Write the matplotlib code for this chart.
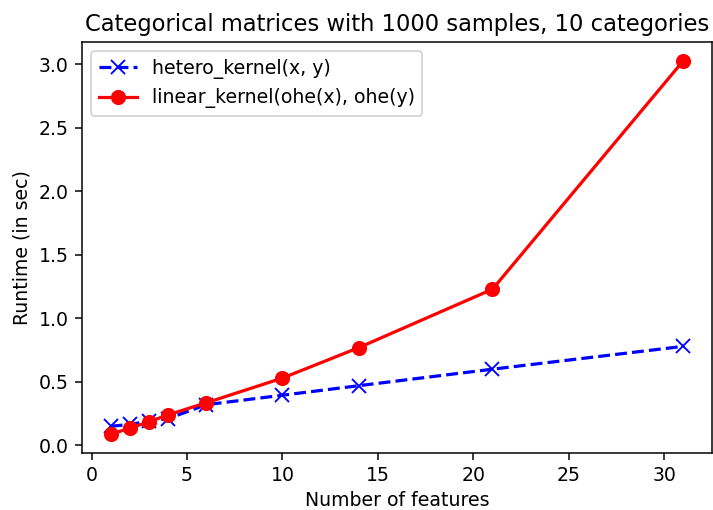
import matplotlib
matplotlib.use("Agg")
import matplotlib.pyplot as plt

n_features = [1, 2, 3, 4, 6, 10, 14, 21, 31]
hetero_times = [0.15, 0.165, 0.19, 0.21, 0.32, 0.395, 0.47, 0.60, 0.78]
ohe_times = [0.087, 0.135, 0.185, 0.24, 0.335, 0.53, 0.77, 1.23, 3.03]

dpi = 136
fig = plt.figure(figsize=(713 / dpi, 510 / dpi), dpi=dpi)
ax = fig.add_axes([82 / 713, 1 - 453 / 510, 630 / 713, 411 / 510])

ax.plot(n_features, hetero_times, 'bx--', ms=7, lw=1.7, label='hetero_kernel(x, y)')
ax.plot(n_features, ohe_times, 'ro-', ms=7, lw=1.7, label='linear_kernel(ohe(x), ohe(y)')

ax.set_title("Categorical matrices with 1000 samples, 10 categories")
ax.set_xlabel("Number of features", labelpad=3)
ax.set_ylabel("Runtime (in sec)")
ax.legend(loc='upper left')

fig.savefig("out.png", dpi=dpi)
